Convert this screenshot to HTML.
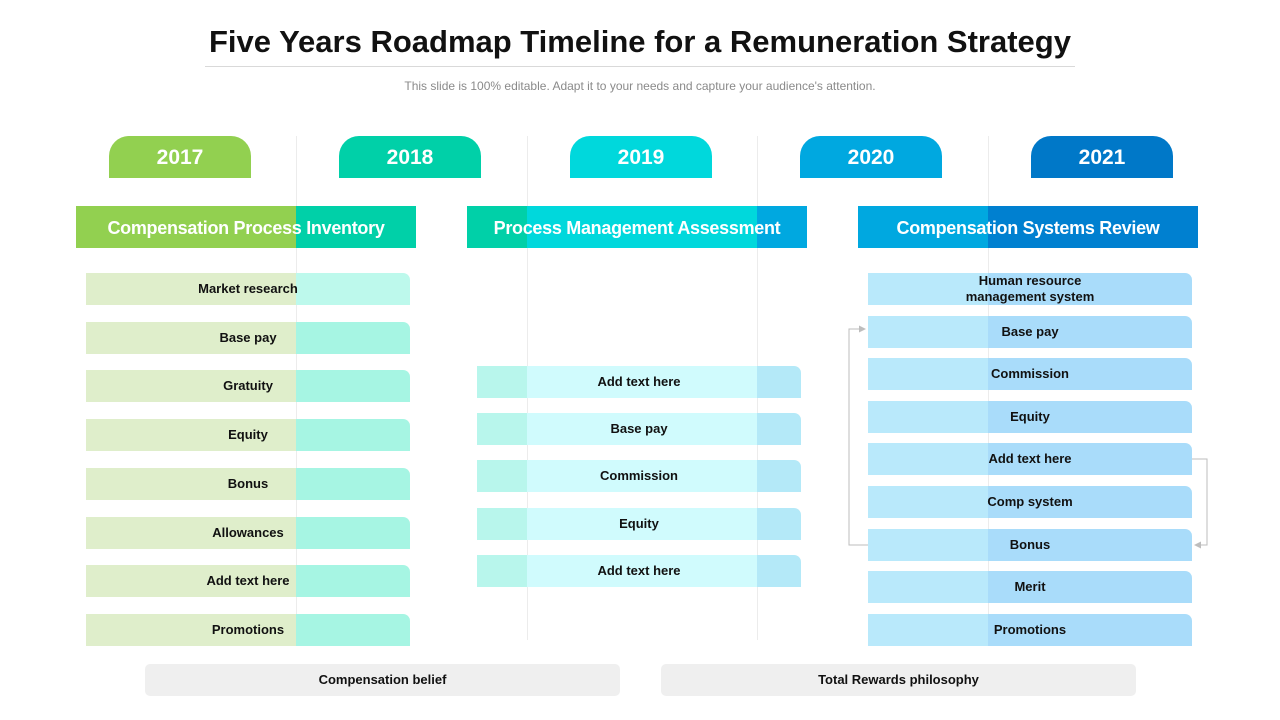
<!DOCTYPE html>
<html><head><meta charset="utf-8">
<style>
*{margin:0;padding:0;box-sizing:border-box}
body{width:1280px;height:720px;background:#fff;position:relative;overflow:hidden;font-family:"Liberation Sans",sans-serif}
.abs{position:absolute}
.title{left:0;width:1280px;top:24px;text-align:center;font-size:31px;font-weight:bold;color:#111}
.rule{left:205px;width:870px;top:66px;height:1px;background:#d9d9d9}
.sub{left:0;width:1280px;top:79px;text-align:center;font-size:12px;color:#8a8a8a}
.vl{top:136px;height:504px;width:1px;background:#ececec}
.year{top:136px;height:42px;width:142px;border-radius:20px 20px 0 0;color:#fff;font-weight:bold;font-size:21px;text-align:center;line-height:44px}
.sec{top:206px;height:42px;width:340px;color:#fff;font-weight:bold;font-size:18px;text-align:center;line-height:44px;font-family:"Liberation Sans Narrow","Liberation Sans",sans-serif;letter-spacing:-0.3px}
.item{height:32px;width:324px;border-radius:0 7px 0 0;font-size:13px;font-weight:bold;color:#111;text-align:center;display:flex;align-items:center;justify-content:center;line-height:16px}
.foot{top:664px;height:32px;width:475px;background:#efefef;border-radius:5px;font-size:13px;font-weight:bold;color:#111;text-align:center;line-height:32px}
</style></head><body>
<div class="abs title">Five Years Roadmap Timeline for a Remuneration Strategy</div>
<div class="abs rule"></div>
<div class="abs sub">This slide is 100% editable. Adapt it to your needs and capture your audience's attention.</div>

<div class="abs vl" style="left:296px"></div>
<div class="abs vl" style="left:527px"></div>
<div class="abs vl" style="left:757px"></div>
<div class="abs vl" style="left:988px"></div>

<div class="abs year" style="left:109px;background:#92d050">2017</div>
<div class="abs year" style="left:339px;background:#00d0a8">2018</div>
<div class="abs year" style="left:570px;background:#00d8dc">2019</div>
<div class="abs year" style="left:800px;background:#00a8e0">2020</div>
<div class="abs year" style="left:1031px;background:#0078c8">2021</div>

<div class="abs sec" style="left:76px;background:linear-gradient(90deg,#92d050 0 220px,#00d0a8 220px)">Compensation Process Inventory</div>
<div class="abs sec" style="left:467px;background:linear-gradient(90deg,#00d0a8 0 60px,#00d8dc 60px 290px,#00a8e0 290px)">Process Management Assessment</div>
<div class="abs sec" style="left:858px;background:linear-gradient(90deg,#00a8e0 0 130px,#0080d0 130px)">Compensation Systems Review</div>

<svg class="abs" style="left:0;top:0" width="1280" height="720">
<polyline points="868,545 849,545 849,329 862,329" fill="none" stroke="#bdbdbd" stroke-width="1"/>
<polygon points="866,329 859,325.5 859,332.5" fill="#bdbdbd"/>
<polyline points="1192,459 1207,459 1207,545 1200,545" fill="none" stroke="#bdbdbd" stroke-width="1"/>
<polygon points="1194,545 1201,541.5 1201,548.5" fill="#bdbdbd"/>
</svg>

<div class="abs foot" style="left:145px">Compensation belief</div>
<div class="abs foot" style="left:661px">Total Rewards philosophy</div>

<script>
const col1Labels=["Market research","Base pay","Gratuity","Equity","Bonus","Allowances","Add text here","Promotions"];
const col1Tops=[273,322,370,419,468,517,565,614];
const col2Labels=["Add text here","Base pay","Commission","Equity","Add text here"];
const col2Tops=[366,413,460,508,555];
const col3Labels=["Human resource<br>management system","Base pay","Commission","Equity","Add text here","Comp system","Bonus","Merit","Promotions"];
const col3Tops=[273,316,358,401,443,486,529,571,614];
function add(labels,tops,left,bgFn,prefix){
  labels.forEach((t,i)=>{
    const d=document.createElement('div');
    d.className='abs item';
    d.style.left=left+'px';d.style.top=tops[i]+'px';
    d.style.background=bgFn(i);
    d.innerHTML=t;
    
    
    document.body.appendChild(d);
  });
}
add(col1Labels,col1Tops,86,i=>'linear-gradient(90deg,#dfeecb 0 210px,'+(i==0?'#bdf9ec':'#a6f5e3')+' 210px)','inventory');
add(col2Labels,col2Tops,477,i=>'linear-gradient(90deg,#b8f6ec 0 50px,#d0fbfd 50px 280px,#b4e9f8 280px)','assessment');
add(col3Labels,col3Tops,868,i=>'linear-gradient(90deg,#b9e9fb 0 120px,#a9dcfa 120px)','review');
</script>
</body></html>
